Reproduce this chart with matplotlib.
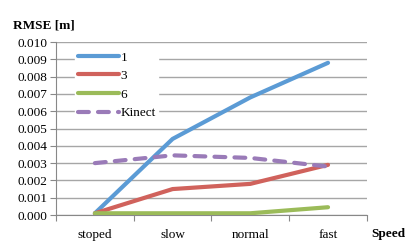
import matplotlib
matplotlib.use("Agg")
import matplotlib.pyplot as plt

# ── Data ──────────────────────────────────────────────────────────────────────
speeds = ["stoped", "slow", "normal", "fast"]
rmse_1 = [0.0001, 0.0044, 0.0068, 0.0088]
rmse_3 = [0.0001, 0.0015, 0.0018, 0.0029]
rmse_6 = [0.0001, 0.0001, 0.0001, 0.00045]
rmse_kinect = [0.0030, 0.00345, 0.0033, 0.0028]
y_ticks = [i / 1000 for i in range(11)]

plt.rcParams.update({
    "font.family": ["Liberation Serif", "DejaVu Serif"],
    "font.size": 9.5,
})

fig = plt.figure(figsize=(4.09, 2.46), dpi=100)
ax = fig.add_axes([0.137, 0.126, 0.760, 0.703])

x = list(range(len(speeds)))
lw = 3.0
ax.plot(x, rmse_1, color="#5B9BD5", lw=lw, label="1", solid_capstyle="round", zorder=3)
ax.plot(x, rmse_3, color="#D0625C", lw=lw, label="3", solid_capstyle="round", zorder=3)
ax.plot(x, rmse_6, color="#9BBB59", lw=lw, label="6", solid_capstyle="round", zorder=3)
ax.plot(x, rmse_kinect, color="#9A7BB8", lw=lw, ls=(0, (2.6, 2.2)), label="Kinect",
        dash_capstyle="round", zorder=3)

ax.set_xlim(-0.5, len(speeds) - 0.5)
ax.set_ylim(0, 0.010)
ax.set_yticks(y_ticks)
ax.set_yticklabels([f"{v:.3f}" for v in y_ticks])
ax.yaxis.grid(True, color="#A6A6A6", lw=1.0)
ax.set_axisbelow(True)

# category labels between boundary tick marks
ax.set_xticks([i - 0.5 for i in range(len(speeds) + 1)])
ax.set_xticklabels([])
ax.set_xticks(x, minor=True)
ax.set_xticklabels(speeds, minor=True)
ax.tick_params(axis="x", which="minor", length=0, pad=10)
ax.tick_params(axis="x", which="major", length=4, color="#888888")
ax.tick_params(axis="y", length=4, color="#888888", pad=2)

for side in ("top", "right"):
    ax.spines[side].set_visible(False)
for side in ("left", "bottom"):
    ax.spines[side].set_color("#888888")

fig.text(0.032, 0.895, "RMSE [m]", fontweight="bold", fontsize=9.5, va="center")
fig.text(0.908, 0.05, "Speed", fontweight="bold", fontsize=9.5, va="center")

leg = ax.legend(loc="upper left", bbox_to_anchor=(0.04, 1.0), frameon=True,
                fancybox=False, edgecolor="white", facecolor="white", framealpha=1,
                handlelength=3.1, handletextpad=0.15, labelspacing=0.48,
                borderpad=0.2, fontsize=9.5)
leg.set_zorder(4)

fig.savefig("out.png", dpi=100)
